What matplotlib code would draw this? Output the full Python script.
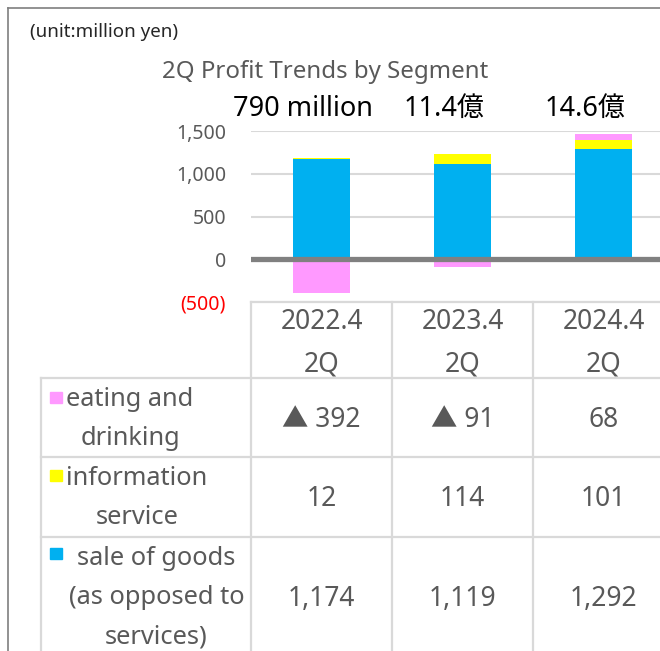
import matplotlib.pyplot as plt
from matplotlib.lines import Line2D
from matplotlib.patches import Rectangle
import numpy as np

plt.rcParams['font.family'] = ['Noto Sans', 'Noto Sans CJK JP', 'DejaVu Sans']

periods = ["2022.4\n2Q", "2023.4\n2Q", "2024.4\n2Q"]
segments = ["eating and\ndrinking", "information\nservice",
            "sale of goods\n(as opposed to\nservices)"]
eating = np.array([-392, -91, 68])
info = np.array([12, 114, 101])
goods = np.array([1174, 1119, 1292])
totals_text = ["790 million", "11.4億", "14.6億"]
yticks = [-500, 0, 500, 1000, 1500]
ytick_labels = ["(500)", "0", "500", "1,000", "1,500"]
cell_text = [["▲ 392", "▲ 91", "68"],
             ["12", "114", "101"],
             ["1,174", "1,119", "1,292"]]

PINK, YELLOW, BLUE = "#FF99FF", "#FFFF00", "#00B0F0"
GRAY_TXT = "#595959"
GRID = "#D9D9D9"

W, H = 660, 651
fig = plt.figure(figsize=(W / 100, H / 100), dpi=100)

# pixel layout helpers
def fx(px):
    return px / W

def fy(py):
    return 1 - py / H

x = np.arange(len(periods))
step = 141.0          # px between categories
x0_px = 321.5         # px centre of first category
xlim = (-0.5, -0.5 + (W - 251) / step)

# ---- chart
ax = fig.add_axes([fx(251), fy(302), fx(W - 251), (302 - 131) / H])
ax.bar(x, goods, width=0.4, color=BLUE, zorder=2)
ax.bar(x, info, width=0.4, bottom=goods, color=YELLOW, zorder=2)
ax.bar(x, eating, width=0.4, bottom=np.where(eating > 0, goods + info, 0),
       color=PINK, zorder=2)
ax.axhline(0, color="#808080", lw=3.8, zorder=3)
ax.set_xlim(*xlim)
ax.set_ylim(-500, 1500)
ax.set_yticks(yticks)
ax.set_yticklabels(ytick_labels, fontsize=14, color=GRAY_TXT)
ax.get_yticklabels()[0].set_color("red")
ax.tick_params(axis="y", length=0, pad=18)
ax.set_xticks([])
ax.yaxis.grid(True, color=GRID, lw=1.5, zorder=0)
for s in ax.spines.values():
    s.set_visible(False)

for i, t in enumerate(totals_text):
    ax.text(i - 0.13, 1.13, t, transform=ax.get_xaxis_transform(),
            ha="center", va="center", fontsize=19.5, color="black")

# ---- table under the chart
tx0 = 41
tab = fig.add_axes([fx(tx0), 0, fx(W - tx0), (H - 302) / H])
tab.set_xlim(-0.5 - (251 - tx0) / step, xlim[1])
tab.set_ylim(H - 302, 0)
tab.axis("off")
row_edges = [0, 76, 155, 235, 380]
lab_left = tab.get_xlim()[0]

line_kw = dict(color=GRID, lw=1.6, clip_on=False)
tab.plot([-0.5, xlim[1]], [0, 0], **line_kw)
for r in row_edges[1:-1]:
    tab.plot([lab_left, xlim[1]], [r, r], **line_kw)
for c in [-0.5, 0.5, 1.5]:
    tab.plot([c, c], [0, row_edges[-1]], **line_kw)
tab.plot([lab_left, lab_left], [row_edges[1], row_edges[-1]], **line_kw)

num_kw = dict(ha="center", va="center", color=GRAY_TXT, fontsize=19,
              linespacing=1.68)
lab_kw = dict(ha="center", va="center", color=GRAY_TXT, fontsize=18.3,
              linespacing=1.74, multialignment="center")
for i, p in enumerate(periods):
    tab.text(i, 41, p, **num_kw)

row_mid = [118, 197, 297]
lab_mid = [117, 196, 296]
label_cx = [130, 137, 156.5]
key_top = [90, 168, 246]
for r, (seg, col) in enumerate(zip(segments, [PINK, YELLOW, BLUE])):
    for i in range(len(periods)):
        tab.text(i, row_mid[r], cell_text[r][i], **num_kw)
    lx = (label_cx[r] - x0_px) / step
    tab.text(lx, lab_mid[r], seg, **lab_kw)
    tab.add_patch(Rectangle(((50 - x0_px) / step, key_top[r]), 12 / step, 11,
                            color=col, clip_on=False))

# ---- titles and frame
fig.text(fx(30), fy(32), "(unit:million yen)", ha="left", va="center",
         fontsize=13.5, color="#262626")
fig.text(fx(325), fy(72), "2Q Profit Trends by Segment", ha="center",
         va="center", fontsize=17.3, color=GRAY_TXT)
fig.add_artist(Line2D([fx(8), 1], [fy(8), fy(8)], color="#7F7F7F", lw=1.2))
fig.add_artist(Line2D([fx(8), fx(8)], [fy(8), 0], color="#7F7F7F", lw=1.2))

fig.savefig("out.png", dpi=100)
